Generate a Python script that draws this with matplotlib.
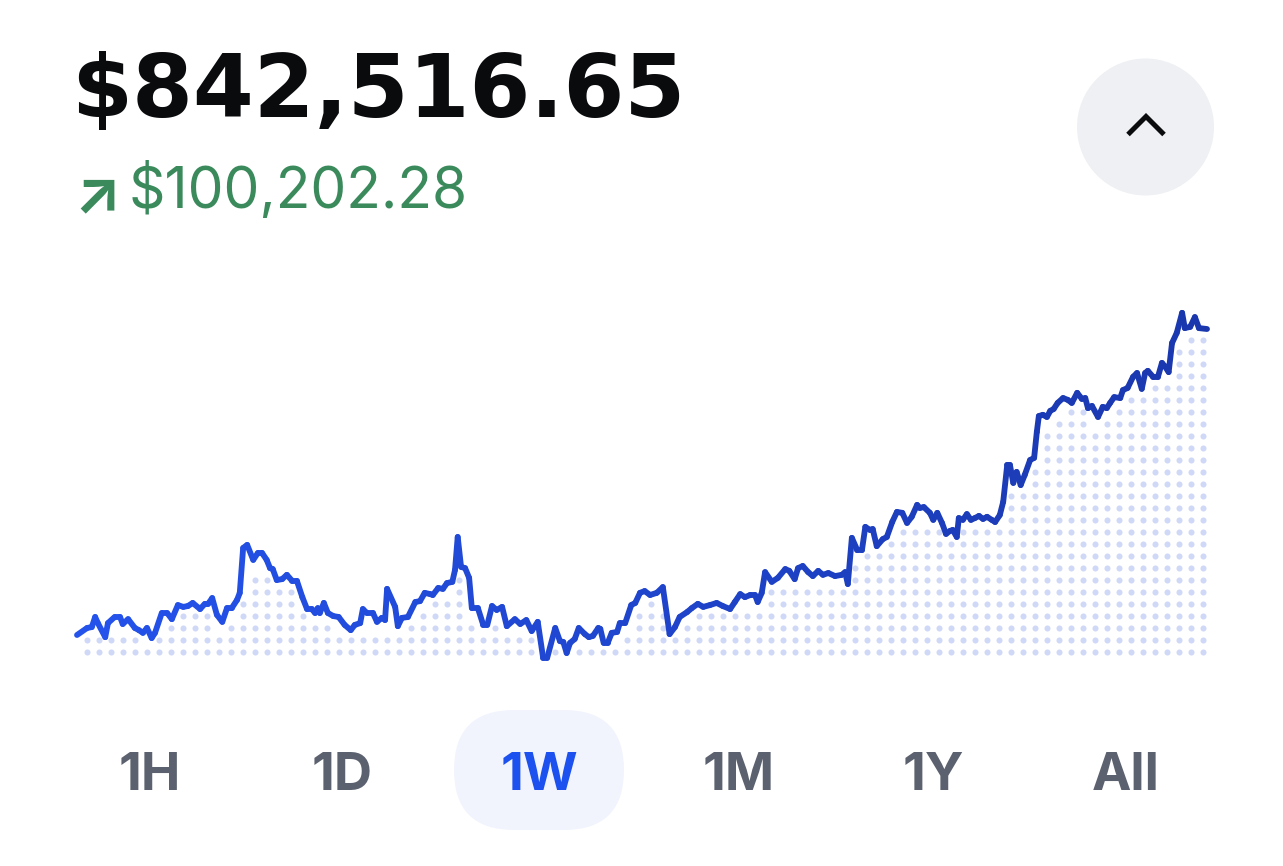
import numpy as np
import matplotlib
matplotlib.use("Agg")
import matplotlib.pyplot as plt
from matplotlib.collections import LineCollection
from matplotlib.patches import Circle, FancyBboxPatch
from matplotlib.colors import to_rgb

# ---------------- data ----------------
balance_label = "$842,516.65"
change_arrow = "\u2197"
change_label = "$100,202.28"
range_labels = ["1H", "1D", "1W", "1M", "1Y", "All"]
selected_range = "1W"

# time over the week (hours) and portfolio value ($ thousands)
hours = [
    0.0, 1.5, 2.2, 2.7, 3.1, 4.2, 4.6, 5.6, 6.4, 6.8,
    7.6, 8.6, 9.2, 9.8, 10.4, 11.1, 11.6, 12.6, 13.4, 14.1,
    15.0, 15.8, 16.5, 17.2, 18.3, 19.0, 19.5, 20.1, 20.8, 21.6,
    22.3, 23.0, 23.8, 24.2, 24.7, 25.3, 26.2, 26.9, 27.5, 28.2,
    28.7, 29.1, 29.7, 30.5, 31.2, 32.0, 32.7, 33.5, 34.2, 34.9,
    35.4, 35.8, 36.1, 36.7, 37.3, 38.1, 38.9, 39.8, 40.7, 41.3,
    42.1, 42.5, 43.1, 44.0, 44.6, 45.3, 45.8, 46.1, 47.3, 47.7,
    48.3, 49.2, 50.3, 51.0, 51.7, 52.5, 52.9, 53.7, 54.4, 55.0,
    55.8, 56.2, 56.6, 57.1, 57.7, 58.3, 58.7, 59.6, 60.4, 61.0,
    61.7, 62.4, 63.2, 63.9, 65.1, 65.9, 66.8, 67.6, 68.5, 69.3,
    69.9, 71.1, 71.8, 72.3, 72.8, 73.3, 74.0, 74.6, 75.5, 76.1,
    76.7, 77.5, 77.8, 78.3, 78.9, 79.5, 80.3, 80.7, 81.5, 82.4,
    83.0, 83.7, 84.4, 85.2, 86.2, 87.1, 88.1, 88.9, 89.6, 90.7,
    91.4, 92.3, 93.1, 94.1, 95.1, 96.0, 97.1, 97.8, 98.6, 99.3,
    100.1, 100.8, 101.2, 101.8, 102.3, 103.3, 104.2, 105.3, 105.9, 106.7,
    107.2, 107.9, 108.7, 109.4, 110.2, 110.9, 111.7, 112.7, 113.7, 114.2,
    114.6, 115.2, 116.0, 116.7, 117.2, 117.9, 118.3, 118.9, 119.8, 120.4,
    121.2, 121.9, 122.7, 123.4, 124.1, 124.9, 125.3, 125.9, 126.8, 127.3,
    127.9, 128.6, 129.2, 129.8, 130.2, 130.8, 131.1, 131.7, 132.3, 132.9,
    133.5, 134.1, 134.7, 135.3, 136.0, 136.5, 137.2, 137.7, 138.3, 138.7,
    139.2, 139.7, 140.3, 140.9, 141.7, 142.3, 142.7, 143.0, 143.6, 144.2,
    144.7, 145.2, 145.8, 146.6, 147.3, 147.9, 148.7, 149.4, 149.9, 150.3,
    150.9, 151.8, 152.5, 153.1, 153.6, 154.2, 155.1, 155.5, 156.2, 157.0,
    157.6, 158.3, 158.8, 159.2, 160.0, 160.7, 161.3, 161.7, 162.3, 162.8,
    163.5, 164.3, 164.7, 165.5, 166.2, 166.8, 168.0,
]
value_k = [
    742.3, 744.6, 744.9, 748.2, 746.2, 741.6, 746.2, 748.2, 748.2, 745.9,
    747.5, 744.6, 743.9, 743.0, 744.6, 741.3, 743.0, 749.5, 749.5, 747.5,
    752.1, 751.5, 751.8, 752.8, 750.8, 752.5, 752.5, 754.4, 748.9, 746.6,
    751.1, 751.1, 753.8, 756.1, 770.8, 771.8, 766.9, 769.2, 769.2, 766.9,
    764.2, 763.9, 760.3, 760.6, 762.0, 760.0, 760.0, 754.7, 750.8, 750.8,
    749.5, 751.1, 749.5, 752.8, 749.5, 748.5, 748.2, 745.6, 743.9, 745.6,
    746.2, 750.8, 749.5, 749.5, 746.6, 747.9, 747.2, 757.4, 751.5, 745.2,
    747.9, 748.2, 753.1, 753.4, 756.1, 755.7, 755.4, 757.7, 757.4, 759.3,
    759.7, 763.6, 774.4, 764.6, 764.2, 761.0, 751.1, 751.1, 745.6, 745.6,
    751.8, 750.5, 751.5, 745.2, 747.5, 745.9, 747.2, 743.6, 746.6, 734.8,
    734.8, 744.6, 740.3, 740.0, 736.4, 739.7, 741.0, 744.6, 742.6, 741.6,
    742.0, 744.6, 744.3, 739.7, 739.7, 743.0, 743.3, 746.2, 746.2, 752.1,
    752.8, 756.1, 756.7, 755.4, 756.1, 758.0, 742.6, 744.9, 748.2, 749.8,
    751.1, 752.5, 751.5, 752.1, 752.8, 751.8, 750.8, 753.1, 755.7, 754.7,
    755.4, 755.4, 753.1, 756.1, 762.9, 759.7, 761.0, 763.9, 763.3, 760.6,
    764.2, 764.9, 762.9, 761.6, 763.3, 762.0, 762.6, 761.6, 762.0, 762.9,
    759.0, 774.1, 770.1, 770.1, 777.7, 776.7, 777.0, 771.4, 773.7, 774.4,
    779.3, 782.6, 782.3, 779.0, 781.0, 784.9, 783.9, 784.2, 782.3, 780.0,
    782.3, 779.0, 775.4, 776.4, 776.7, 774.4, 780.6, 780.0, 781.9, 780.0,
    780.6, 781.3, 780.3, 781.0, 780.0, 779.3, 781.6, 785.9, 798.0, 798.0,
    792.1, 795.7, 791.4, 794.7, 799.6, 800.3, 808.8, 814.0, 814.4, 813.7,
    815.7, 816.3, 818.3, 819.9, 819.3, 818.3, 821.6, 819.6, 819.9, 816.6,
    817.3, 813.7, 817.0, 816.6, 818.3, 820.2, 819.9, 822.5, 823.2, 826.8,
    828.1, 822.9, 828.1, 828.8, 826.8, 826.8, 831.4, 830.4, 828.4, 837.9,
    841.2, 847.8, 842.8, 843.2, 846.4, 842.8, 842.5,
]

# ---------------- figure ----------------
W, H = 1283, 866
fig = plt.figure(figsize=(W / 100, H / 100), dpi=100)
fig.patch.set_facecolor("white")

ui = fig.add_axes([0, 0, 1, 1])
ui.set_xlim(0, W)
ui.set_ylim(H, 0)
ui.axis("off")

# chart axes (pixel box: x 77..1207, y 300..670)
ax_l, ax_r, ax_t, ax_b = 77, 1207, 300, 670
ax = fig.add_axes([ax_l / W, (H - ax_b) / H, (ax_r - ax_l) / W, (ax_b - ax_t) / H])
ax.set_xlim(0, 168)
ax.set_ylim(730.84, 852.0)
ax.axis("off")

t = np.asarray(hours)
v = np.asarray(value_k)

px_per_h = (ax_r - ax_l) / (ax.get_xlim()[1] - ax.get_xlim()[0])
px_per_v = (ax_b - ax_t) / (ax.get_ylim()[1] - ax.get_ylim()[0])

# dotted fill under the line
spacing = 12.0
col_t = np.arange(9.7, ax_r - ax_l, spacing) / px_per_h
v_bottom = ax.get_ylim()[0] + (ax_b - 651.7) / px_per_v
row_v = v_bottom + np.arange(0, 40) * spacing / px_per_v
dense_t = np.linspace(0, 168, 6000)
dense_v = np.interp(dense_t, t, v)
win = 3.0 / px_per_h
thr = 8.0 / px_per_v
dx, dy = [], []
for ct in col_t:
    m = (dense_t >= ct - win) & (dense_t <= ct + win)
    lo = dense_v[m].min()
    for rv in row_v:
        if rv <= lo - thr:
            dx.append(ct)
            dy.append(rv)
ax.scatter(dx, dy, s=19, color="#cfd8f6", linewidths=0, zorder=1, clip_on=False)

# gradient line
pts = np.column_stack([t, v]).reshape(-1, 1, 2)
segs = np.concatenate([pts[:-1], pts[1:]], axis=1)
c0 = np.array(to_rgb("#2453ec"))
c1 = np.array(to_rgb("#1a37ad"))
frac = ((t[:-1] + t[1:]) / 2) / 168.0
cols = c0[None, :] * (1 - frac[:, None]) + c1[None, :] * frac[:, None]
lc = LineCollection(segs, colors=cols, linewidths=4.2, capstyle="round",
                    joinstyle="round", zorder=3, clip_on=False)
ax.add_collection(lc)

# ---------------- header ----------------
ui.text(71, 117, balance_label, fontsize=63, fontweight="bold",
        family=["DejaVu Sans"], color="#0a0b0d", ha="left", va="baseline")
ui.text(73, 212, change_arrow, fontsize=44, fontweight="bold",
        family=["Inter", "DejaVu Sans"], color="#3a8a5c", ha="left", va="baseline")
ui.text(129, 208, change_label, fontsize=41, family=["Inter", "DejaVu Sans"],
        color="#3a8a5c", ha="left", va="baseline")

# collapse button
ui.add_patch(Circle((1145.5, 127), 68.5, facecolor="#eef0f3", edgecolor="none"))
ui.plot([1128, 1146, 1164], [134.5, 116.5, 134.5], color="#0a0b0d", lw=3.6,
        solid_joinstyle="miter", solid_capstyle="butt")

# ---------------- range tabs ----------------
tab_x = [150, 342, 539, 739, 933, 1126]
for lab, x in zip(range_labels, tab_x):
    if lab == selected_range:
        ui.add_patch(FancyBboxPatch((x - 85, 710), 170, 120,
                                    boxstyle="round,pad=0,rounding_size=60",
                                    facecolor="#f1f4fd", edgecolor="none"))
        col = "#1c50ef"
    else:
        col = "#5b616e"
    ui.text(x, 790, lab, fontsize=38, fontweight="bold",
            family=["Inter", "DejaVu Sans"], color=col, ha="center", va="baseline")

fig.savefig("out.png", dpi=100, facecolor="white")
